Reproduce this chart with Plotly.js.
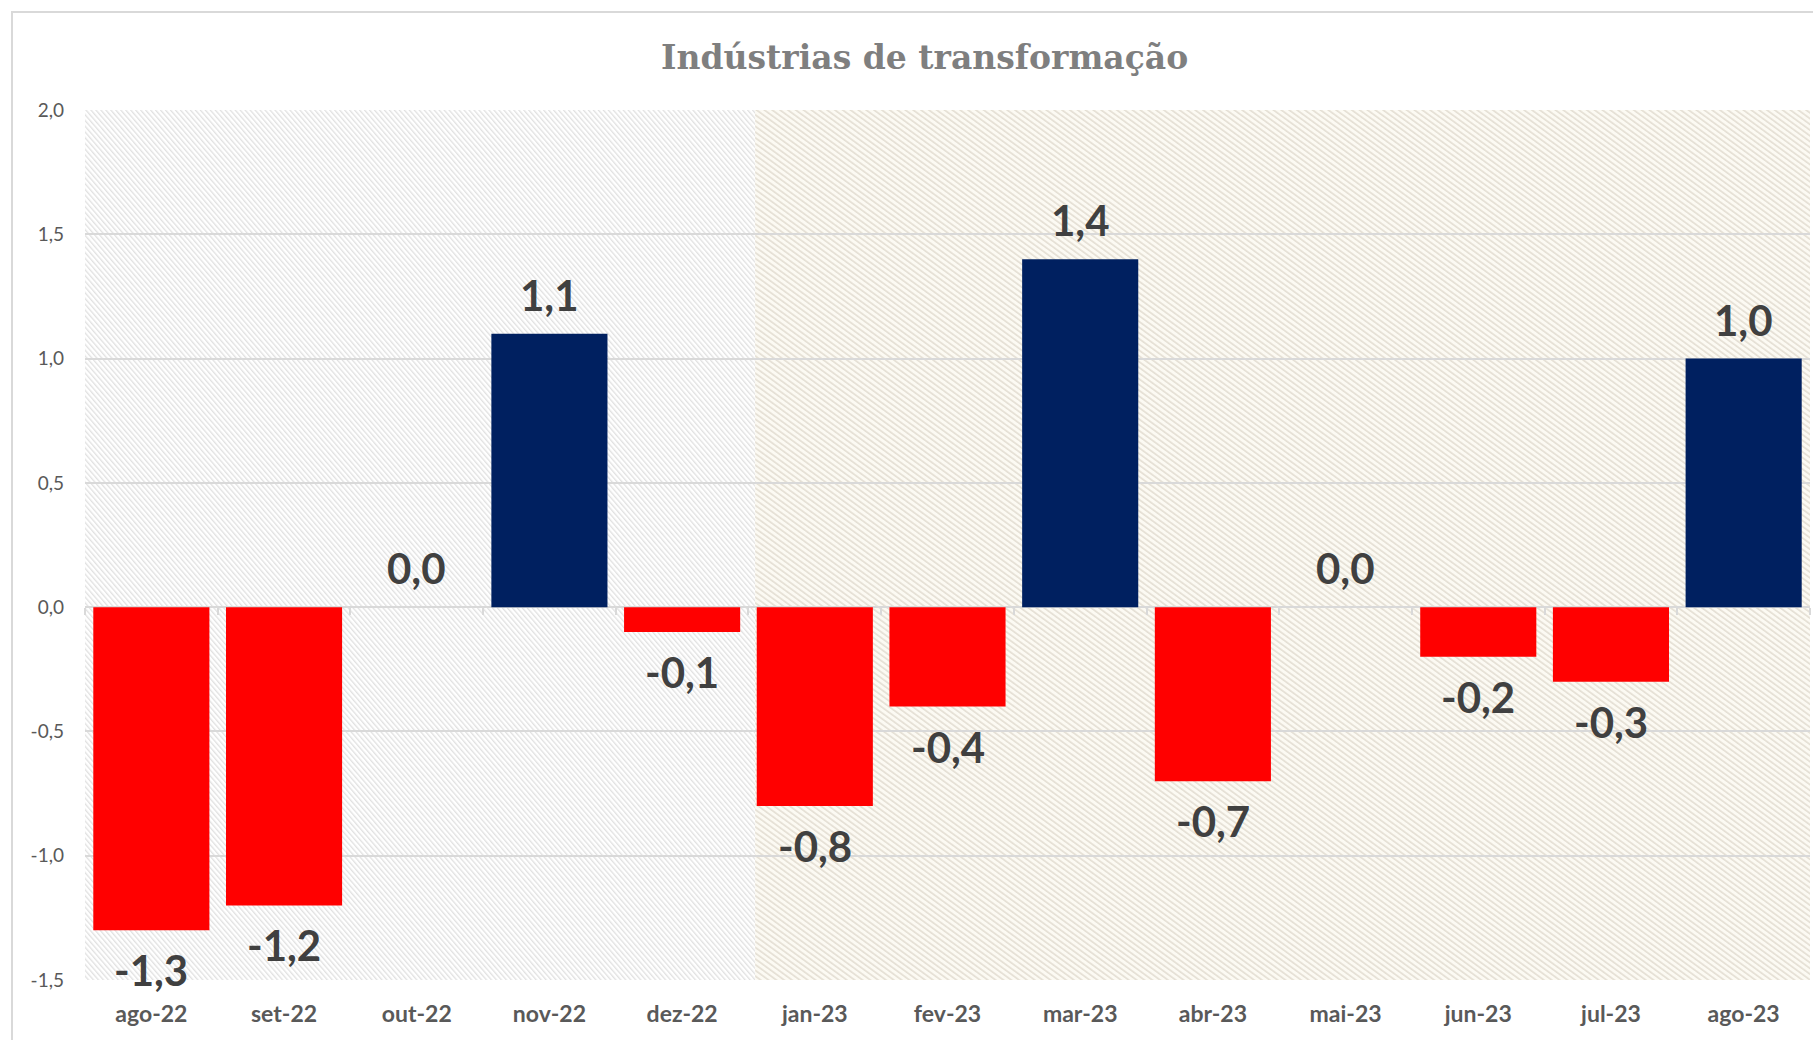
<!DOCTYPE html>
<html>
<head>
<meta charset="utf-8">
<script src="https://cdn.plot.ly/plotly-3.0.1.min.js"></script>
<style>
  html, body { margin: 0; padding: 0; background: #ffffff; }
  #wrap { position: relative; width: 1813px; height: 1040px; overflow: hidden; }
  #chart { position: absolute; left: 0; top: 0; width: 1813px; height: 1040px; }
  #frame { position: absolute; left: 11px; top: 11px; width: 1900px; height: 1100px;
           border-left: 2px solid #d9d9d9; border-top: 2px solid #d9d9d9; pointer-events: none; }
</style>
</head>
<body>
<div id="wrap">
  <div id="chart"></div>
  <div id="frame"></div>
</div>
<script>
// ---- data ----
const categories = ['ago-22','set-22','out-22','nov-22','dez-22','jan-23','fev-23','mar-23','abr-23','mai-23','jun-23','jul-23','ago-23'];
const values = [-1.3, -1.2, 0.0, 1.1, -0.1, -0.8, -0.4, 1.4, -0.7, 0.0, -0.2, -0.3, 1.0];
const yTickVals = [-1.5, -1.0, -0.5, 0.0, 0.5, 1.0, 1.5, 2.0];
const yTickText = ['-1,5', '-1,0', '-0,5', '0,0', '0,5', '1,0', '1,5', '2,0'];
const titleText = 'Indústrias de transformação';
// shaded periods (first and last category of each)
const period2022 = ['ago-22', 'dez-22'];
const period2023 = ['jan-23', 'ago-23'];

// ---- styles ----
const NAVY = '#002060';
const RED = '#ff0000';
const yRange = [-1.5, 2.0];

function fmt(v) { return v.toFixed(1).replace('.', ','); }

function hatchSVG(bg, line) {
  const svg = '<svg xmlns="http://www.w3.org/2000/svg" width="800" height="900" preserveAspectRatio="none">' +
    '<defs><pattern id="p" width="4.2" height="4.2" patternUnits="userSpaceOnUse" patternTransform="rotate(-45)">' +
    '<rect width="4.2" height="4.2" fill="' + bg + '"/><rect width="1.5" height="4.2" fill="' + line + '"/></pattern></defs>' +
    '<rect width="800" height="900" fill="url(#p)"/></svg>';
  return 'data:image/svg+xml;base64,' + btoa(svg);
}

const barTrace = {
  type: 'bar',
  x: categories,
  y: values,
  marker: { color: values.map(v => v >= 0 ? NAVY : RED), line: { width: 0 } },
  hoverinfo: 'x+y',
  xaxis: 'x', yaxis: 'y'
};

// invisible helper trace carrying the small category tick marks on the zero line
const tickTrace = {
  type: 'scatter', mode: 'markers',
  x: categories, y: values.map(() => 0),
  marker: { opacity: 0, size: 1 },
  hoverinfo: 'skip', showlegend: false,
  xaxis: 'x2', yaxis: 'y'
};

const annotations = values.map((v, i) => ({
  x: categories[i], y: v, xref: 'x', yref: 'y',
  text: fmt(v), showarrow: false,
  yanchor: 'middle', xanchor: 'center',
  yshift: v >= 0 ? 39 : -40,
  font: { family: 'Lato, sans-serif', size: 42, color: '#404040', weight: 'bold' }
}));

const i0 = categories.indexOf(period2022[0]), i1 = categories.indexOf(period2022[1]);
const j0 = categories.indexOf(period2023[0]), j1 = categories.indexOf(period2023[1]);

const images = [
  { source: hatchSVG('#ffffff', '#e1e1e1'), xref: 'x', yref: 'paper',
    x: i0 - 0.5, y: 1, sizex: i1 - i0 + 1.05, sizey: 1, sizing: 'stretch',
    xanchor: 'left', yanchor: 'top', layer: 'below' },
  { source: hatchSVG('#fcfaf3', '#e4dfd4'), xref: 'x', yref: 'paper',
    x: j0 - 0.45, y: 1, sizex: j1 - j0 + 0.95, sizey: 1, sizing: 'stretch',
    xanchor: 'left', yanchor: 'top', layer: 'below' }
];

const layout = {
  width: 1813, height: 1040,
  margin: { l: 85, r: 3, t: 110, b: 60 },
  paper_bgcolor: 'rgba(0,0,0,0)',
  plot_bgcolor: 'rgba(0,0,0,0)',
  showlegend: false,
  bargap: 0.125,
  title: {
    text: '<b>' + titleText + '</b>',
    x: 0.51, xanchor: 'center', y: 0.945, yanchor: 'middle',
    font: { family: 'DejaVu Serif, serif', size: 33, color: '#7f7f7f' }
  },
  xaxis: {
    type: 'category', range: [-0.5, categories.length - 0.5],
    showgrid: false, zeroline: false, showline: false,
    ticks: '', ticklabelstandoff: 18,
    tickfont: { family: 'Lato, sans-serif', size: 23, color: '#595959', weight: 'bold' },
    fixedrange: true
  },
  xaxis2: {
    type: 'category', overlaying: 'x', matches: 'x', anchor: 'free',
    position: (0 - yRange[0]) / (yRange[1] - yRange[0]),
    side: 'bottom',
    showgrid: false, zeroline: false, showline: false,
    ticks: 'outside', tickson: 'boundaries', ticklen: 7, tickwidth: 2, tickcolor: '#d9d9d9',
    showticklabels: false
  },
  yaxis: {
    range: yRange, tickvals: yTickVals, ticktext: yTickText,
    showgrid: true, gridcolor: '#d9d9d9', gridwidth: 2,
    zeroline: false, showline: false, ticks: '', ticklabelstandoff: 20,
    tickfont: { family: 'Lato, sans-serif', size: 19, color: '#595959' },
    fixedrange: true
  },
  annotations: annotations,
  images: images
};

Plotly.newPlot('chart', [barTrace, tickTrace], layout, { displayModeBar: false, staticPlot: true });
</script>
</body>
</html>
